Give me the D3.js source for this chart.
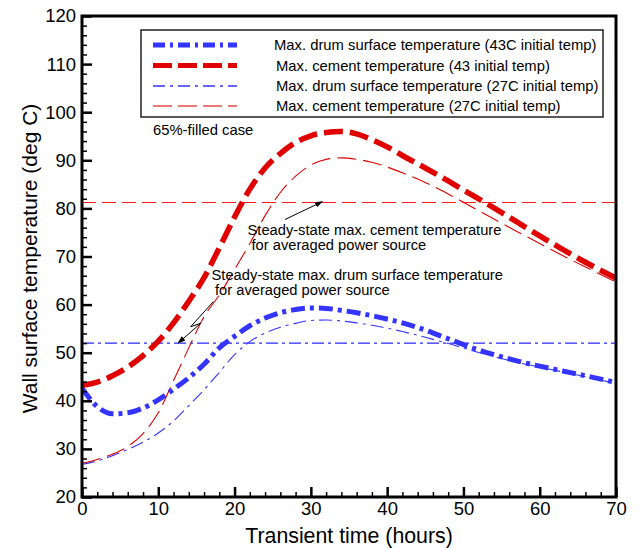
<!DOCTYPE html>
<html><head><meta charset="utf-8">
<script src="https://cdn.jsdelivr.net/npm/d3@7"></script>
<style>
html,body{margin:0;padding:0;background:#fff;}
svg{display:block;font-family:"Liberation Sans",Arial,sans-serif;}
</style></head>
<body><svg id="c" width="638" height="548"></svg>
<script>
const time = [0,2,4,6,8,10,12,14,16,18,20,22,24,26,28,30,32,34,36,38,40,42,45,48,51,54,57,60,63,66,70];
const cement43 = [43.2,43.9,45.2,47.0,49.4,52.4,56.2,60.7,65.6,71.8,78.2,84.0,88.4,91.4,93.7,95.1,95.8,96.0,95.5,94.3,92.8,91.0,88.4,85.7,82.9,80.1,77.2,74.3,71.5,68.8,65.5];
const cement27 = [27.0,27.8,28.9,30.5,33.2,37.5,44.2,51.0,57.5,62.0,67.3,72.7,78.5,83.3,86.7,89.0,90.2,90.5,90.2,89.6,88.6,87.4,85.4,83.0,80.4,77.8,75.2,72.7,70.2,67.8,64.7];
const drum43 = [42.6,38.8,37.3,37.5,38.5,40.2,42.4,44.8,47.6,51.0,53.4,55.6,57.2,58.3,59.0,59.3,59.2,58.8,58.3,57.7,57.0,56.2,54.7,52.9,51.1,49.6,48.3,47.2,46.2,45.2,43.8];
const drum27 = [26.8,27.5,28.6,29.9,31.4,33.3,35.8,39.0,42.3,45.9,49.6,52.3,54.1,55.3,56.1,56.7,56.8,56.6,56.2,55.7,55.1,54.4,53.2,51.9,50.5,49.2,48.0,47.0,46.0,45.0,43.6];
const steadyCement = 81.4;
const steadyDrum = 52;
const xTicks = [0,10,20,30,40,50,60,70];
const yTicks = [20,30,40,50,60,70,80,90,100,110,120];
const legendLabels = [
  "Max. drum surface temperature (43C initial temp)",
  "Max. cement temperature (43 initial temp)",
  "Max. drum surface temperature (27C initial temp)",
  "Max. cement temperature (27C initial temp)"
];

const RED = "#e00000", BLUE = "#3434ff";
const styles = [
  {color:BLUE, w:5, dash:"14,5,4,5"},
  {color:RED, w:5.5, dash:"19,7"},
  {color:BLUE, w:1.1, dash:"13,5,3,5"},
  {color:RED, w:1.1, dash:"19,7"}
];
const seriesData = [drum43, cement43, drum27, cement27];

const svg = d3.select("#c");
const L=82, R=616, T=16, B=497;
const x = d3.scaleLinear().domain([0,70]).range([L,R]);
const y = d3.scaleLinear().domain([20,120]).range([B,T]);

svg.append("defs").append("clipPath").attr("id","clip")
  .append("rect").attr("x",L).attr("y",T).attr("width",R-L).attr("height",B-T);

const plot = svg.append("g").attr("clip-path","url(#clip)");

// steady-state lines
const yc = Math.round(y(steadyCement))+0.5;
plot.append("line").attr("x1",x(0)).attr("x2",x(70)).attr("y1",yc).attr("y2",yc)
  .attr("stroke","#ff1a1a").attr("stroke-width",1).attr("stroke-dasharray","14,6");
plot.append("line").attr("x1",x(0)).attr("x2",x(70)).attr("y1",y(steadyDrum)).attr("y2",y(steadyDrum))
  .attr("stroke","#2a2aff").attr("stroke-width",1.2).attr("stroke-dasharray","12,4,3,4");

const line = d3.line().x((d,i)=>x(time[i])).y(d=>y(d)).curve(d3.curveMonotoneX);
[2,3,0,1].forEach(k=>{
  plot.append("path").datum(seriesData[k]).attr("d",line)
    .attr("fill","none").attr("stroke",styles[k].color).attr("stroke-width",styles[k].w)
    .attr("stroke-dasharray",styles[k].dash);
});

// axes
const xMinor = d3.range(0,71,2).filter(v=>v%10!==0);
const yMinor = d3.range(20,121,2).filter(v=>v%10!==0);
const ax = svg.append("g").attr("transform",`translate(0,${B})`);
ax.call(d3.axisBottom(x).tickValues(xMinor).tickFormat("").tickSize(-5).tickSizeOuter(0));
const ax2 = svg.append("g").attr("transform",`translate(0,${B})`);
ax2.call(d3.axisBottom(x).tickValues(xTicks).tickFormat(d3.format("d")).tickSize(-10).tickSizeOuter(0).tickPadding(5));
const ay = svg.append("g").attr("transform",`translate(${L},0)`);
ay.call(d3.axisLeft(y).tickValues(yMinor).tickFormat("").tickSize(-5).tickSizeOuter(0));
const ay2 = svg.append("g").attr("transform",`translate(${L},0)`);
ay2.call(d3.axisLeft(y).tickValues(yTicks).tickFormat(d3.format("d")).tickSize(-10).tickSizeOuter(0).tickPadding(4));
[ax,ay].forEach(g=>{g.selectAll(".tick line").attr("stroke","#000").attr("stroke-width",1.5);});
[ax2,ay2].forEach(g=>{g.selectAll(".tick line").attr("stroke","#000").attr("stroke-width",2.5);});
svg.selectAll(".domain").remove();
ax2.selectAll("text").attr("font-size",18.5).attr("fill","#000").attr("font-family","Liberation Sans, Arial, sans-serif");
ay2.selectAll("text").attr("font-size",18.5).attr("fill","#000").attr("font-family","Liberation Sans, Arial, sans-serif").attr("dx","-2");

svg.append("rect").attr("x",L).attr("y",T).attr("width",R-L).attr("height",B-T)
  .attr("fill","none").attr("stroke","#000").attr("stroke-width",3);

// titles
svg.append("text").attr("x",(L+R)/2).attr("y",543).attr("text-anchor","middle")
  .attr("font-size",21.3).text("Transient time (hours)");
svg.append("text").attr("transform",`translate(37,${(T+B)/2+2}) rotate(-90)`).attr("text-anchor","middle")
  .attr("font-size",21).text("Wall surface temperature (deg C)");

// legend
svg.append("rect").attr("x",141).attr("y",30).attr("width",462).attr("height",87)
  .attr("fill","#fff").attr("stroke","#222").attr("stroke-width",1.5);
const rowsY = [45,65.5,86,106];
legendLabels.forEach((lab,k)=>{
  svg.append("line").attr("x1",153).attr("x2",237).attr("y1",rowsY[k]).attr("y2",rowsY[k])
    .attr("stroke",styles[k].color).attr("stroke-width",k<2?5:1.5)
    .attr("stroke-dasharray",k===0?"12,5,3,5":k===1?"19,6":k===2?"12,5,3,5":"19,6")
    .attr("opacity",k===3?0.7:1);
  svg.append("text").attr("x",k===0?274:276).attr("y",rowsY[k]+5).attr("font-size",14.8).text(lab);
});
svg.append("text").attr("x",153).attr("y",135).attr("font-size",14.8).text("65%-filled case");

// annotations
svg.append("defs").append("marker").attr("id","ah").attr("viewBox","0 0 10 10").attr("refX",9).attr("refY",5)
  .attr("markerWidth",8).attr("markerHeight",8).attr("markerUnits","userSpaceOnUse").attr("orient","auto")
  .append("path").attr("d","M0,1.5 L10,5 L0,8.5 Z").attr("fill","#000");
svg.append("line").attr("x1",285).attr("y1",219.5).attr("x2",x(31.5)).attr("y2",y(steadyCement))
  .attr("stroke","#000").attr("stroke-width",1).attr("marker-end","url(#ah)");
svg.append("text").attr("x",247.5).attr("y",235).attr("font-size",14.7).text("Steady-state max. cement temperature");
svg.append("text").attr("x",251.5).attr("y",249.5).attr("font-size",14.7).text("for averaged power source");
svg.append("text").attr("x",211.5).attr("y",280).attr("font-size",14.7).text("Steady-state max. drum surface temperature");
svg.append("text").attr("x",215).attr("y",294.5).attr("font-size",14.7).text("for averaged power source");
svg.append("path").attr("d",`M213.3,301.7 L190.7,326.7 L200.7,323.3 L${x(12.6)},${y(steadyDrum)}`)
  .attr("fill","none").attr("stroke","#000").attr("stroke-width",1).attr("marker-end","url(#ah)");
</script></body></html>
